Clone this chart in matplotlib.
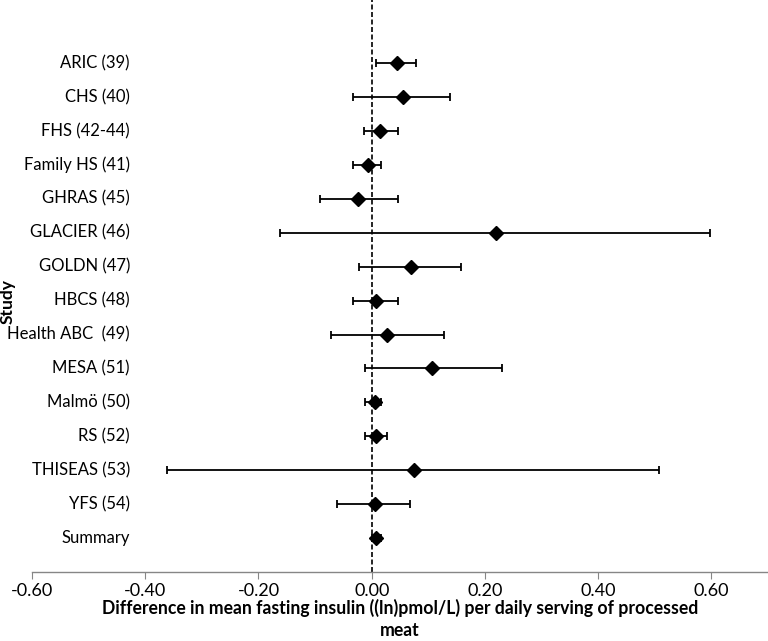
import matplotlib
matplotlib.use("Agg")
import matplotlib.pyplot as plt
import matplotlib.transforms as mtransforms
import numpy as np

studies = ["ARIC (39)", "CHS (40)", "FHS (42-44)", "Family HS (41)", "GHRAS (45)",
           "GLACIER (46)", "GOLDN (47)", "HBCS (48)", "Health ABC  (49)", "MESA (51)",
           "Malmö (50)", "RS (52)", "THISEAS (53)", "YFS (54)", "Summary"]
estimate = [0.045, 0.055, 0.015, -0.006, -0.024, 0.219, 0.070, 0.007, 0.027, 0.107,
            0.006, 0.007, 0.075, 0.006, 0.008]
lower = [0.008, -0.033, -0.013, -0.033, -0.092, -0.162, -0.022, -0.033, -0.072, -0.012,
         -0.012, -0.012, -0.362, -0.062, 0.001]
upper = [0.078, 0.138, 0.047, 0.017, 0.047, 0.598, 0.157, 0.047, 0.127, 0.230,
         0.016, 0.027, 0.508, 0.068, 0.016]
xticks = [-0.60, -0.40, -0.20, 0.00, 0.20, 0.40, 0.60]
xlabel = "Difference in mean fasting insulin ((ln)pmol/L) per daily serving of processed\nmeat"
ylabel = "Study"

plt.rcParams['font.family'] = ['Lato', 'DejaVu Sans']

fig = plt.figure(figsize=(7.68, 6.41), dpi=100)
ax = fig.add_axes([32/768, 69/641, 736/768, 572/641])

est = np.array(estimate)
lo = np.array(lower)
hi = np.array(upper)
n = len(studies)
ypos = np.arange(n, 0, -1)

ax.axvline(0, color='black', lw=1.2, ls=(0, (3, 1.5)), zorder=1)
ax.errorbar(est, ypos, xerr=[est - lo, hi - est], fmt='D', color='black',
            ms=7, capsize=3.2, elinewidth=1.3, capthick=1.3, zorder=3)

trans = mtransforms.blended_transform_factory(ax.transAxes, ax.transData)
for name, y in zip(studies, ypos):
    ax.text(98/736, y, name, transform=trans, ha='right', va='center', fontsize=12)

ax.set_xlim(-0.6, 0.7)
ax.set_ylim(0, 16.86)
ax.set_xticks(xticks)
ax.set_xticklabels([f"{t:.2f}" for t in xticks], fontsize=13)
ax.set_yticks([])
for s in ['left', 'top', 'right']:
    ax.spines[s].set_visible(False)
ax.spines['bottom'].set_color('#868686')
ax.spines['bottom'].set_linewidth(1.0)
ax.tick_params(axis='x', direction='out', length=5, color='#868686', pad=3)

ax.set_xlabel(xlabel, fontsize=12.7, fontweight='bold', linespacing=1.35, labelpad=0)
fig.text(8/768, 1 - 302/641, ylabel, rotation=90, ha='center', va='center',
         fontsize=12.5, fontweight='bold')

fig.savefig("out.png", dpi=100)
